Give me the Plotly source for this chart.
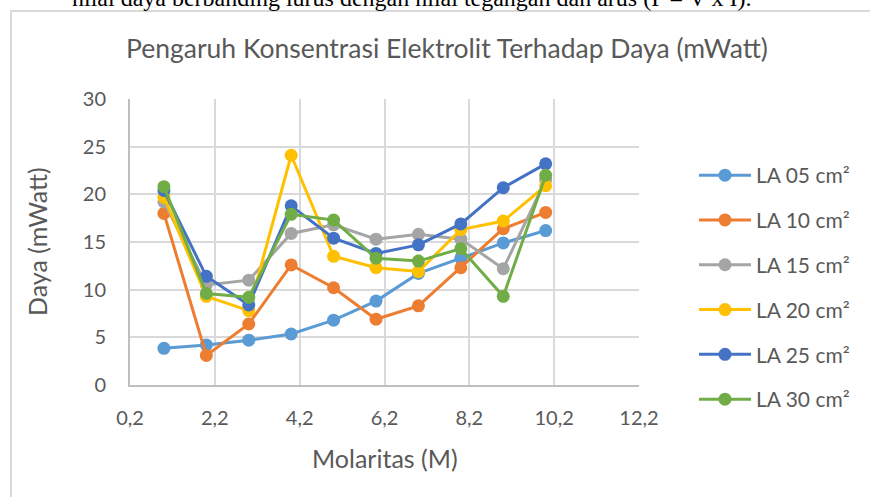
import plotly.graph_objects as go

# ---- data ----
molaritas = [1, 2, 3, 4, 5, 6, 7, 8, 9, 10]
la05 = [3.85, 4.2, 4.7, 5.35, 6.8, 8.8, 11.7, 13.3, 14.9, 16.2]
la10 = [18.0, 3.1, 6.4, 12.6, 10.2, 6.9, 8.3, 12.3, 16.4, 18.1]
la15 = [19.2, 10.5, 11.0, 15.9, 16.8, 15.3, 15.8, 15.3, 12.2, 21.5]
la20 = [19.7, 9.3, 7.8, 24.1, 13.5, 12.3, 11.9, 16.3, 17.2, 20.9]
la25 = [20.4, 11.4, 8.4, 18.8, 15.4, 13.8, 14.7, 16.9, 20.7, 23.2]
la30 = [20.8, 9.6, 9.2, 17.9, 17.3, 13.3, 13.0, 14.3, 9.3, 22.0]
series_names = ["LA 05 cm²", "LA 10 cm²", "LA 15 cm²", "LA 20 cm²", "LA 25 cm²", "LA 30 cm²"]
series_values = [la05, la10, la15, la20, la25, la30]
colors = ["#5B9BD5", "#ED7D31", "#A5A5A5", "#FFC000", "#4472C4", "#70AD47"]
x_ticks = [0.2, 2.2, 4.2, 6.2, 8.2, 10.2, 12.2]
y_ticks = [0, 5, 10, 15, 20, 25, 30]

W, H = 870, 497
L, R, T, B = 130, 231, 99, 112
PW, PH = W - L - R, H - T - B


def px2x(px):
    return (px - L) / PW


def px2y(py):
    return (H - B - py) / PH


fig = go.Figure()
for i, (name, vals, col) in enumerate(zip(series_names, series_values, colors)):
    fig.add_trace(go.Scatter(
        x=molaritas, y=vals, name=name, mode="lines+markers",
        line=dict(color=col, width=3),
        marker=dict(color=col, size=13, line=dict(width=0)),
        legendgroup=f"g{i}",
    ))

txt = "#595959"
frame = dict(color="#d9d9d9", width=2)
fig.update_layout(
    width=W, height=H, autosize=False,
    margin=dict(l=L, r=R, t=T, b=B, pad=0, autoexpand=False),
    paper_bgcolor="white", plot_bgcolor="white",
    separators=",.",
    font=dict(family="Lato", size=20, color=txt),
    showlegend=True,
    legend=dict(
        x=px2x(694), y=px2y(155), xanchor="left", yanchor="top",
        font=dict(family="Lato", size=21, color=txt),
        itemwidth=52, tracegroupgap=14.5, bgcolor="rgba(0,0,0,0)",
    ),
    xaxis=dict(
        range=[0.2, 12.2], tickvals=x_ticks, ticktext=[f"{v:.1f}".replace(".", ",") for v in x_ticks],
        showgrid=True, gridcolor="#d9d9d9", gridwidth=2,
        showline=True, linecolor="#bfbfbf", linewidth=2,
        zeroline=False, ticks="", ticklabelstandoff=14,
        tickfont=dict(family="Lato", size=20, color=txt),
    ),
    yaxis=dict(
        range=[0, 30], tickvals=y_ticks,
        showgrid=True, gridcolor="#d9d9d9", gridwidth=2,
        showline=True, linecolor="#bfbfbf", linewidth=2,
        zeroline=False, ticks="", ticklabelstandoff=18,
        tickfont=dict(family="Lato", size=20, color=txt),
    ),
    shapes=[
        dict(type="line", xref="paper", yref="paper",
             x0=px2x(11), x1=px2x(11), y0=px2y(11), y1=px2y(497), line=frame, layer="below"),
        dict(type="line", xref="paper", yref="paper",
             x0=px2x(10), x1=px2x(870), y0=px2y(11), y1=px2y(11), line=frame, layer="below"),
    ],
    annotations=[
        dict(text="nilai daya berbanding lurus dengan nilai tegangan dan arus (P = V x I).",
             xref="paper", yref="paper", x=px2x(70), y=px2y(13), xanchor="left", yanchor="bottom",
             showarrow=False, font=dict(family="Liberation Serif", size=24, color="black")),
        dict(text="Pengaruh Konsentrasi Elektrolit Terhadap Daya (mWatt)",
             xref="paper", yref="paper", x=px2x(447), y=px2y(48), xanchor="center", yanchor="middle",
             showarrow=False, font=dict(family="Lato", size=26.5, color=txt)),
        dict(text="Molaritas (M)",
             xref="paper", yref="paper", x=px2x(385), y=px2y(458), xanchor="center", yanchor="middle",
             showarrow=False, font=dict(family="Lato", size=25, color=txt)),
        dict(text="Daya (mWatt)", textangle=-90,
             xref="paper", yref="paper", x=px2x(37), y=px2y(242), xanchor="center", yanchor="middle",
             showarrow=False, font=dict(family="Lato", size=25, color=txt)),
    ],
)

fig.write_html("out.html", config={"displayModeBar": False},
               post_script="document.body.style.margin='0';document.body.style.overflow='hidden';")
